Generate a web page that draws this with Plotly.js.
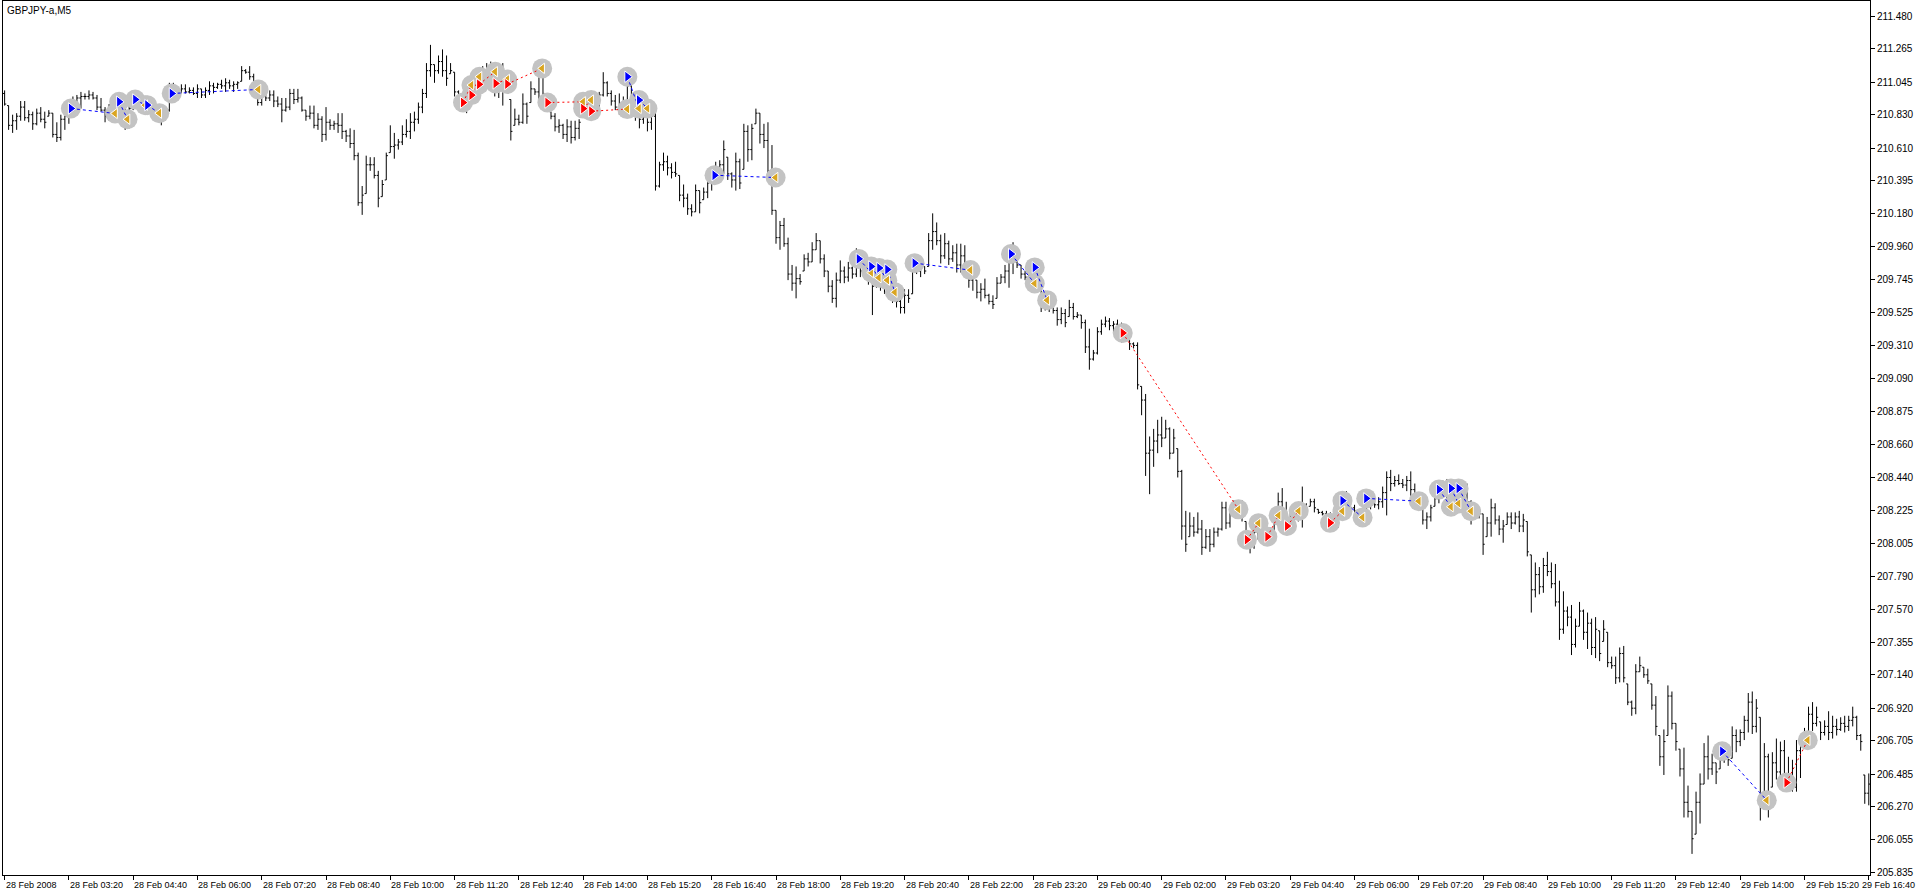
<!DOCTYPE html>
<html><head><meta charset="utf-8">
<script src="https://cdn.plot.ly/plotly-3.0.1.min.js"></script>
<style>html,body{margin:0;padding:0;background:#fff;}#chart{width:1916px;height:896px;}</style>
</head><body><div id="chart"></div>
<script>
const chartTitle = "GBPJPY-a,M5";
const openP = [
210.97,210.89,210.76,210.79,210.82,210.88,210.81,210.83,210.77,210.84,
210.80,210.82,210.84,210.70,210.68,210.80,210.82,210.87,210.90,210.94,
210.95,210.95,210.96,210.94,210.88,210.86,210.82,210.86,210.90,210.88,
210.83,210.76,210.87,210.93,210.91,210.88,210.89,210.86,210.83,210.81,
210.80,210.86,210.99,211.00,210.99,211.00,210.98,210.99,210.97,211.00,
210.96,210.99,211.02,211.01,211.03,211.02,211.04,211.02,211.03,211.05,
211.12,211.11,211.08,211.00,210.91,210.95,210.94,210.96,210.92,210.90,
210.86,210.88,210.97,210.93,210.94,210.86,210.82,210.84,210.76,210.80,
210.70,210.78,210.76,210.77,210.76,210.72,210.69,210.64,210.56,210.25,
210.31,210.50,210.50,210.43,210.29,210.40,210.58,210.62,210.63,210.65,
210.70,210.72,210.78,210.80,210.88,210.97,211.12,211.16,211.12,211.18,
211.12,211.10,211.11,210.98,210.94,210.92,210.98,211.02,211.02,211.07,
211.10,211.05,211.12,211.04,211.00,211.06,210.93,210.76,210.80,210.78,
210.90,210.91,211.00,210.98,211.10,210.96,210.85,210.82,210.75,210.76,
210.70,210.75,210.68,210.74,210.85,210.92,210.90,210.86,210.87,210.96,
211.04,210.97,210.92,210.88,210.90,210.86,211.02,210.90,210.86,210.80,
210.84,210.78,210.82,210.36,210.50,210.52,210.48,210.45,210.43,210.30,
210.28,210.21,210.19,210.33,210.27,210.32,210.38,210.45,210.43,210.50,
210.55,210.44,210.40,210.52,210.47,210.72,210.60,210.77,210.84,210.70,
210.66,210.46,210.20,210.02,210.10,209.98,209.78,209.72,209.75,209.80,
209.88,209.86,209.94,210.00,209.88,209.80,209.70,209.62,209.74,209.80,
209.76,209.82,209.78,209.88,209.80,209.85,209.76,209.70,209.76,209.72,
209.70,209.66,209.62,209.60,209.56,209.64,209.65,209.82,209.80,209.83,
209.83,210.00,210.06,210.00,209.90,209.98,209.88,209.92,209.84,209.90,
209.82,209.74,209.74,209.66,209.68,209.64,209.60,209.62,209.72,209.76,
209.80,209.90,209.86,209.84,209.78,209.76,209.80,209.76,209.74,209.58,
209.62,209.56,209.54,209.48,209.52,209.50,209.56,209.50,209.51,209.46,
209.30,209.22,209.26,209.40,209.45,209.47,209.44,209.45,209.44,209.38,
209.37,209.32,209.31,209.04,208.95,208.60,208.62,208.68,208.72,208.70,
208.76,208.60,208.63,208.48,208.12,208.05,208.12,208.08,208.10,207.98,
208.05,208.00,208.08,208.10,208.24,208.14,208.20,208.22,208.20,208.15,
208.06,208.00,208.08,208.14,208.09,208.05,208.08,208.18,208.28,208.20,
208.12,208.18,208.22,208.20,208.26,208.25,208.28,208.23,208.21,208.20,
208.18,208.12,208.16,208.20,208.26,208.30,208.24,208.22,208.18,208.22,
208.30,208.28,208.26,208.28,208.34,208.44,208.40,208.42,208.40,208.39,
208.42,208.36,208.30,208.25,208.16,208.18,208.25,208.30,208.36,208.34,
208.30,208.32,208.36,208.30,208.34,208.28,208.18,208.22,208.20,208.05,
208.14,208.24,208.16,208.10,208.13,208.18,208.14,208.18,208.12,208.15,
207.93,207.70,207.80,207.72,207.86,207.82,207.74,207.62,207.44,207.56,
207.52,207.34,207.46,207.56,207.42,207.48,207.32,207.43,207.36,207.42,
207.22,207.20,207.12,207.28,207.08,206.96,206.92,207.16,207.19,207.14,
207.08,206.94,206.74,206.60,206.74,207.00,206.82,206.65,206.52,206.30,
206.24,206.09,206.30,206.42,206.60,206.52,206.56,206.52,206.62,206.60,
206.59,206.74,206.70,206.76,206.84,206.96,206.80,206.86,206.28,206.60,
206.40,206.56,206.50,206.64,206.44,206.42,206.40,206.64,206.68,206.74,
206.88,206.82,206.83,206.76,206.80,206.76,206.80,206.78,206.82,206.80,
206.84,206.86,206.74,206.48,206.36];
const highP = [
210.99,210.89,210.83,210.84,210.92,210.92,210.86,210.85,210.87,210.88,
210.85,210.86,210.84,210.78,210.83,210.84,210.92,210.95,210.96,210.98,
210.97,210.99,210.98,210.96,210.94,210.88,210.90,210.94,210.95,210.90,
210.88,210.89,210.99,210.96,210.94,210.93,210.90,210.89,210.88,210.87,
210.88,211.04,211.04,211.01,211.03,211.03,211.01,211.01,211.03,211.00,
211.01,211.05,211.04,211.04,211.06,211.07,211.06,211.05,211.05,211.15,
211.13,211.15,211.10,211.00,210.99,210.98,210.99,210.99,210.95,210.94,
210.94,211.00,211.00,211.00,210.95,210.86,210.89,210.89,210.84,210.82,
210.88,210.80,210.79,210.84,210.84,210.73,210.74,210.73,210.58,210.36,
210.56,210.55,210.55,210.46,210.40,210.58,210.76,210.71,210.67,210.76,
210.80,210.84,210.85,210.91,211.00,211.17,211.29,211.16,211.22,211.26,
211.22,211.17,211.11,210.99,210.97,211.01,211.05,211.05,211.10,211.15,
211.17,211.18,211.17,211.13,211.17,211.10,210.93,210.87,210.83,210.97,
210.91,211.05,211.00,211.18,211.15,210.96,210.85,210.84,210.80,210.77,
210.80,210.79,210.79,210.80,210.96,210.96,210.94,210.89,210.98,211.11,
211.05,210.99,210.96,210.97,210.95,211.10,211.04,210.96,210.93,210.88,
210.86,210.87,210.88,210.52,210.58,210.56,210.51,210.52,210.43,210.37,
210.31,210.24,210.37,210.33,210.35,210.42,210.49,210.52,210.53,210.66,
210.55,210.45,210.58,210.54,210.77,210.76,210.77,210.87,210.84,210.77,
210.78,210.63,210.20,210.13,210.15,210.02,209.84,209.83,209.78,209.91,
209.92,209.99,210.05,210.00,209.91,209.80,209.74,209.79,209.87,209.83,
209.86,209.83,209.95,209.90,209.91,209.85,209.83,209.82,209.79,209.79,
209.77,209.70,209.69,209.67,209.68,209.68,209.86,209.86,209.86,209.83,
210.05,210.18,210.12,210.04,210.05,210.00,209.97,209.98,209.98,209.97,
209.86,209.83,209.74,209.72,209.75,209.65,209.64,209.76,209.78,209.84,
209.96,209.99,209.89,209.84,209.80,209.83,209.83,209.82,209.74,209.67,
209.64,209.60,209.56,209.56,209.55,209.61,209.59,209.53,209.51,209.48,
209.42,209.28,209.43,209.48,209.50,209.49,209.47,209.48,209.46,209.41,
209.40,209.33,209.33,209.04,208.99,208.71,208.76,208.82,208.84,208.82,
208.77,208.76,208.63,208.49,208.22,208.21,208.18,208.21,208.16,208.10,
208.10,208.11,208.11,208.28,208.28,208.23,208.29,208.22,208.29,208.15,
208.08,208.11,208.17,208.18,208.09,208.11,208.21,208.34,208.37,208.28,
208.22,208.26,208.25,208.38,208.27,208.30,208.30,208.23,208.22,208.22,
208.21,208.18,208.22,208.28,208.35,208.32,208.26,208.22,208.24,208.36,
208.34,208.29,208.31,208.38,208.48,208.49,208.45,208.46,208.43,208.45,
208.48,208.40,208.34,208.25,208.21,208.26,208.34,208.41,208.42,208.43,
208.35,208.40,208.41,208.41,208.40,208.29,208.26,208.24,208.20,208.18,
208.30,208.27,208.19,208.16,208.21,208.21,208.21,208.22,208.20,208.15,
207.93,207.88,207.85,207.91,207.95,207.88,207.87,207.76,207.69,207.59,
207.60,207.51,207.62,207.57,207.55,207.51,207.52,207.43,207.50,207.42,
207.26,207.26,207.32,207.33,207.08,206.97,207.21,207.26,207.19,207.18,
207.08,207.00,206.74,206.78,207.07,207.03,206.82,206.65,206.66,206.41,
206.24,206.37,206.49,206.69,206.74,206.62,206.56,206.69,206.65,206.64,
206.80,206.78,206.78,206.87,207.02,207.03,206.98,206.86,206.69,206.62,
206.63,206.72,206.70,206.71,206.60,206.58,206.71,206.71,206.79,206.93,
206.96,206.93,206.83,206.84,206.90,206.87,206.85,206.86,206.87,206.87,
206.93,206.87,206.75,206.48,206.49];
const lowP = [
210.89,210.73,210.71,210.73,210.79,210.79,210.78,210.73,210.76,210.78,
210.74,210.82,210.68,210.65,210.66,210.73,210.77,210.85,210.88,210.87,
210.93,210.93,210.93,210.86,210.85,210.78,210.79,210.83,210.85,210.81,
210.73,210.74,210.86,210.88,210.85,210.85,210.84,210.81,210.79,210.76,
210.79,210.85,210.97,210.97,210.97,210.97,210.97,210.96,210.94,210.94,
210.94,210.96,210.97,211.00,211.00,210.98,211.00,210.98,211.00,211.05,
211.10,211.06,210.99,210.89,210.89,210.92,210.92,210.88,210.88,210.78,
210.85,210.86,210.90,210.91,210.85,210.79,210.80,210.74,210.73,210.65,
210.66,210.73,210.73,210.71,210.67,210.65,210.61,210.53,210.23,210.17,
210.31,210.46,210.41,210.22,210.29,210.40,210.58,210.54,210.60,210.63,
210.68,210.67,210.72,210.77,210.84,210.94,211.08,211.04,211.10,211.08,
211.02,211.10,210.95,210.91,210.89,210.84,210.93,210.96,211.02,211.02,
211.01,210.99,210.95,210.94,210.89,211.01,210.66,210.76,210.76,210.77,
210.77,210.91,210.96,210.91,210.95,210.87,210.80,210.72,210.71,210.67,
210.65,210.64,210.66,210.67,210.85,210.87,210.84,210.85,210.86,210.95,
210.95,210.89,210.86,210.83,210.83,210.85,210.83,210.79,210.74,210.77,
210.72,210.73,210.33,210.35,210.46,210.43,210.41,210.42,210.26,210.22,
210.17,210.16,210.19,210.18,210.27,210.28,210.33,210.39,210.40,210.44,
210.40,210.35,210.33,210.34,210.47,210.52,210.53,210.77,210.64,210.61,
210.42,210.17,209.98,209.94,209.96,209.74,209.67,209.62,209.71,209.80,
209.83,209.86,209.94,209.85,209.76,209.66,209.59,209.56,209.72,209.72,
209.73,209.75,209.76,209.76,209.78,209.71,209.51,209.69,209.67,209.65,
209.63,209.59,209.56,209.52,209.52,209.59,209.65,209.78,209.76,209.78,
209.83,209.94,209.97,209.85,209.88,209.84,209.86,209.79,209.79,209.78,
209.69,209.67,209.62,209.60,209.62,209.58,209.55,209.62,209.72,209.72,
209.69,209.78,209.82,209.75,209.74,209.70,209.74,209.72,209.53,209.54,
209.53,209.52,209.44,209.45,209.43,209.50,209.48,209.49,209.42,209.26,
209.15,209.21,209.25,209.38,209.43,209.41,209.39,209.41,209.33,209.36,
209.28,209.29,209.02,208.85,208.45,208.33,208.51,208.60,208.64,208.70,
208.56,208.60,208.44,208.03,207.95,208.05,208.05,208.07,207.93,207.97,
207.95,207.98,208.05,208.09,208.10,208.11,208.18,208.18,208.15,208.03,
207.94,207.97,208.03,208.07,208.00,208.04,208.07,208.12,208.16,208.06,
208.11,208.11,208.15,208.11,208.19,208.25,208.21,208.20,208.19,208.17,
208.09,208.09,208.11,208.18,208.24,208.21,208.19,208.15,208.14,208.20,
208.23,208.24,208.23,208.24,208.19,208.35,208.38,208.39,208.37,208.35,
208.32,208.28,208.24,208.13,208.10,208.15,208.25,208.27,208.31,208.24,
208.26,208.24,208.24,208.25,208.26,208.13,208.18,208.17,207.93,208.05,
208.05,208.13,208.06,208.01,208.13,208.10,208.13,208.08,208.08,207.92,
207.55,207.65,207.67,207.68,207.79,207.71,207.59,207.37,207.41,207.46,
207.27,207.32,207.46,207.37,207.31,207.27,207.25,207.23,207.36,207.19,
207.18,207.08,207.09,207.09,206.94,206.87,206.88,207.16,207.12,207.08,
206.91,206.74,206.54,206.48,206.74,206.78,206.64,206.47,206.20,206.20,
205.96,206.09,206.16,206.42,206.45,206.48,206.42,206.52,206.56,206.54,
206.59,206.63,206.67,206.71,206.76,206.75,206.76,206.18,206.25,206.20,
206.40,206.45,206.45,206.40,206.38,206.37,206.37,206.46,206.68,206.73,
206.77,206.80,206.71,206.74,206.71,206.72,206.74,206.77,206.76,206.77,
206.80,206.71,206.64,206.29,206.28];
const closeP = [
210.90,210.76,210.79,210.82,210.88,210.81,210.83,210.77,210.84,210.80,
210.78,210.84,210.70,210.68,210.80,210.82,210.87,210.90,210.94,210.95,
210.95,210.96,210.94,210.88,210.86,210.82,210.86,210.90,210.88,210.83,
210.76,210.87,210.93,210.91,210.88,210.89,210.86,210.83,210.81,210.80,
210.86,210.99,211.00,210.99,211.00,210.98,210.99,210.97,211.00,210.96,
210.99,211.02,211.01,211.03,211.02,211.04,211.02,211.03,211.04,211.12,
211.11,211.08,211.00,210.91,210.95,210.94,210.96,210.92,210.90,210.86,
210.88,210.97,210.93,210.94,210.86,210.82,210.84,210.76,210.80,210.70,
210.78,210.76,210.77,210.76,210.72,210.69,210.64,210.56,210.25,210.30,
210.50,210.50,210.43,210.28,210.37,210.56,210.62,210.63,210.65,210.70,
210.72,210.78,210.80,210.88,210.97,211.12,211.16,211.12,211.18,211.12,
211.07,211.12,210.98,210.94,210.92,210.98,211.02,211.00,211.07,211.10,
211.05,211.12,211.04,211.00,211.06,211.03,210.72,210.80,210.78,210.90,
210.82,211.00,210.98,211.10,210.97,210.90,210.82,210.75,210.76,210.70,
210.75,210.68,210.74,210.78,210.92,210.90,210.86,210.87,210.96,211.04,
210.97,210.92,210.88,210.90,210.86,211.02,210.90,210.86,210.80,210.84,
210.78,210.82,210.36,210.50,210.52,210.48,210.45,210.44,210.30,210.28,
210.21,210.19,210.33,210.25,210.32,210.38,210.45,210.43,210.50,210.60,
210.44,210.40,210.52,210.38,210.72,210.60,210.74,210.84,210.70,210.66,
210.46,210.20,210.02,210.10,209.98,209.78,209.72,209.75,209.73,209.88,
209.86,209.94,210.00,209.88,209.80,209.70,209.62,209.74,209.80,209.76,
209.82,209.78,209.88,209.80,209.86,209.76,209.70,209.76,209.72,209.70,
209.66,209.62,209.60,209.56,209.64,209.62,209.82,209.80,209.84,209.80,
210.00,210.06,210.00,209.90,209.98,209.88,209.92,209.84,209.90,209.82,
209.74,209.78,209.66,209.68,209.64,209.60,209.58,209.72,209.76,209.80,
209.90,209.86,209.84,209.78,209.76,209.80,209.76,209.74,209.58,209.62,
209.56,209.54,209.48,209.52,209.46,209.56,209.50,209.51,209.46,209.30,
209.22,209.26,209.40,209.45,209.47,209.44,209.45,209.44,209.38,209.37,
209.32,209.31,209.05,208.95,208.60,208.62,208.68,208.72,208.70,208.76,
208.60,208.70,208.48,208.12,208.00,208.12,208.08,208.10,207.98,208.05,
208.00,208.08,208.10,208.24,208.14,208.20,208.24,208.20,208.18,208.06,
208.00,208.08,208.14,208.10,208.05,208.08,208.18,208.28,208.20,208.12,
208.18,208.22,208.20,208.26,208.22,208.28,208.24,208.21,208.20,208.18,
208.12,208.16,208.20,208.26,208.30,208.24,208.22,208.18,208.22,208.30,
208.28,208.26,208.28,208.34,208.44,208.40,208.42,208.40,208.39,208.42,
208.36,208.30,208.26,208.16,208.18,208.24,208.30,208.36,208.34,208.30,
208.32,208.36,208.30,208.34,208.28,208.18,208.22,208.20,208.00,208.14,
208.24,208.16,208.10,208.12,208.18,208.14,208.18,208.12,208.16,207.95,
207.70,207.80,207.72,207.86,207.82,207.74,207.62,207.44,207.56,207.52,
207.34,207.46,207.56,207.42,207.48,207.32,207.44,207.28,207.44,207.22,
207.20,207.12,207.28,207.12,206.96,206.92,207.16,207.20,207.14,207.10,
206.94,206.80,206.60,206.70,207.00,206.82,206.70,206.52,206.30,206.24,
206.06,206.30,206.42,206.60,206.52,206.56,206.50,206.62,206.60,206.58,
206.74,206.70,206.76,206.84,206.96,206.80,206.92,206.28,206.60,206.30,
206.56,206.50,206.64,206.44,206.42,206.40,206.64,206.68,206.74,206.88,
206.82,206.86,206.76,206.80,206.76,206.80,206.78,206.82,206.80,206.84,
206.86,206.74,206.70,206.36,206.42];

// one label every 16 bars (80 minutes of M5 bars)
const timeLabels = ["28 Feb 2008","28 Feb 03:20","28 Feb 04:40","28 Feb 06:00","28 Feb 07:20","28 Feb 08:40",
"28 Feb 10:00","28 Feb 11:20","28 Feb 12:40","28 Feb 14:00","28 Feb 15:20","28 Feb 16:40","28 Feb 18:00",
"28 Feb 19:20","28 Feb 20:40","28 Feb 22:00","28 Feb 23:20","29 Feb 00:40","29 Feb 02:00","29 Feb 03:20",
"29 Feb 04:40","29 Feb 06:00","29 Feb 07:20","29 Feb 08:40","29 Feb 10:00","29 Feb 11:20","29 Feb 12:40",
"29 Feb 14:00","29 Feb 15:20","29 Feb 16:40"];
const priceLabels = ["205.835","206.055","206.270","206.485","206.705","206.920","207.140","207.355","207.570",
"207.790","208.005","208.225","208.440","208.660","208.875","209.090","209.310","209.525","209.745","209.960",
"210.180","210.395","210.610","210.830","211.045","211.265","211.480"];

// trades: side, entry bar/price, exit bar/price
const tradeSide = ["buy","buy","buy","buy","buy","sell","sell","sell","sell","sell","sell","sell","sell",
"buy","buy","buy","buy","buy","buy","buy","buy","buy","buy","sell","sell","sell","sell","sell",
"buy","buy","buy","buy","buy","buy","sell"];
const entryBar = [16.5,28.5,32.5,35.5,41.6,114.1,116.2,118.1,122.2,125.1,135.1,144.0,146.0,
155.0,157.9,176.7,212.6,215.7,217.7,219.7,226.5,250.5,256.4,278.3,309.2,314.3,319.2,329.9,
333.0,338.9,357.0,360.0,361.9,427.5,443.5];
const entryPrice = [210.871,210.915,210.930,210.893,210.970,210.910,210.959,211.030,211.036,211.032,210.910,210.870,210.853,
211.080,210.926,210.431,209.880,209.830,209.820,209.810,209.852,209.912,209.824,209.392,208.030,208.050,208.120,208.141,
208.287,208.302,208.361,208.368,208.368,206.636,206.430];
const exitBar = [27.5,30.6,35.0,38.5,63.2,116.2,118.2,122.1,125.1,133.8,144.0,146.0,155.0,
157.9,160.0,191.9,215.7,217.6,219.7,221.6,240.4,256.4,259.5,307.1,312.1,317.1,322.1,333.0,
338.0,352.0,360.0,361.9,365.0,438.6,448.8];
const exitPrice = [210.838,210.800,210.893,210.840,210.996,211.025,211.080,211.113,211.062,211.135,210.915,210.926,210.867,
210.871,210.871,210.416,209.790,209.756,209.740,209.660,209.806,209.718,209.608,208.230,208.139,208.190,208.219,208.218,
208.177,208.284,208.247,208.269,208.218,206.313,206.709];

const barIndex = openP.map((_, i) => i);
const labelBars = timeLabels.map((_, k) => k * 16);

const haloX = [], haloY = [];
const lineX = {buy: [], sell: []}, lineY = {buy: [], sell: []};
const entX = {buy: [], sell: []}, entY = {buy: [], sell: []};
for (let k = 0; k < tradeSide.length; k++) {
  const s = tradeSide[k];
  haloX.push(entryBar[k], exitBar[k]); haloY.push(entryPrice[k], exitPrice[k]);
  lineX[s].push(entryBar[k], exitBar[k], null); lineY[s].push(entryPrice[k], exitPrice[k], null);
  entX[s].push(entryBar[k]); entY[s].push(entryPrice[k]);
}

const traces = [
  {type:'scatter', mode:'markers', x:haloX, y:haloY, hoverinfo:'skip',
   marker:{symbol:'circle', size:20, color:'#c3c3c3', line:{width:0}}},
  {type:'ohlc', x:barIndex, open:openP, high:highP, low:lowP, close:closeP, hoverinfo:'skip',
   tickwidth:0.4,
   increasing:{line:{color:'#000000', width:1}}, decreasing:{line:{color:'#000000', width:1}}},
  {type:'scatter', mode:'lines', x:lineX.buy, y:lineY.buy, hoverinfo:'skip',
   line:{color:'#0000ff', width:1, dash:'3px,3px'}},
  {type:'scatter', mode:'lines', x:lineX.sell, y:lineY.sell, hoverinfo:'skip',
   line:{color:'#ff0000', width:1, dash:'2px,3px'}},
  {type:'scatter', mode:'markers', x:exitBar, y:exitPrice, hoverinfo:'skip',
   marker:{symbol:'triangle-left', size:9, color:'#daa520', line:{color:'#ffffff', width:1}}},
  {type:'scatter', mode:'markers', x:entX.buy, y:entY.buy, hoverinfo:'skip',
   marker:{symbol:'triangle-right', size:10, color:'#0000ff', line:{color:'#ffffff', width:1}}},
  {type:'scatter', mode:'markers', x:entX.sell, y:entY.sell, hoverinfo:'skip',
   marker:{symbol:'triangle-right', size:10, color:'#ff0000', line:{color:'#ffffff', width:1}}}
];

const annotations = [{text:chartTitle, xref:'paper', yref:'paper', x:0, y:1, xanchor:'left', yanchor:'top',
    xshift:2, yshift:-2, showarrow:false, font:{size:10, color:'#000000'}}];
timeLabels.forEach((t, k) => {
  const last = k === timeLabels.length - 1;
  annotations.push(last ? {
    text:t, xref:'paper', yref:'paper', x:1, y:0, xanchor:'right', yanchor:'top',
    xshift:46, yshift:-4, showarrow:false, borderpad:0, font:{size:9, color:'#000000'}
  } : {
    text:t, xref:'x', yref:'paper', x:labelBars[k], y:0, xanchor:'left', yanchor:'top',
    xshift:0, yshift:-4, showarrow:false, borderpad:0, font:{size:9, color:'#000000'}
  });
});

const layout = {
  width:1916, height:896,
  margin:{l:3, r:46, t:1, b:21, pad:0},
  paper_bgcolor:'#ffffff', plot_bgcolor:'#ffffff', showlegend:false,
  font:{family:'Liberation Sans, Arial, sans-serif', size:10, color:'#000000'},
  xaxis:{range:[-0.4, 464.3], rangeslider:{visible:false}, showgrid:false, zeroline:false,
    showline:true, mirror:true, linecolor:'#000000', linewidth:1,
    ticks:'outside', ticklen:4, tickcolor:'#000000', tickwidth:1,
    tickmode:'array', tickvals:labelBars, ticktext:timeLabels, showticklabels:false,
    automargin:false, fixedrange:true},
  yaxis:{side:'right', range:[205.821, 211.579], showgrid:false, zeroline:false,
    showline:true, mirror:true, linecolor:'#000000', linewidth:1,
    ticks:'outside', ticklen:4, tickcolor:'#000000', tickwidth:1,
    tickmode:'array', tickvals:priceLabels.map(Number), ticktext:priceLabels,
    tickfont:{size:10, color:'#000000'}, automargin:false, fixedrange:true},
  annotations:annotations
};

Plotly.newPlot('chart', traces, layout, {displayModeBar:false, staticPlot:true});
</script>
</body></html>
